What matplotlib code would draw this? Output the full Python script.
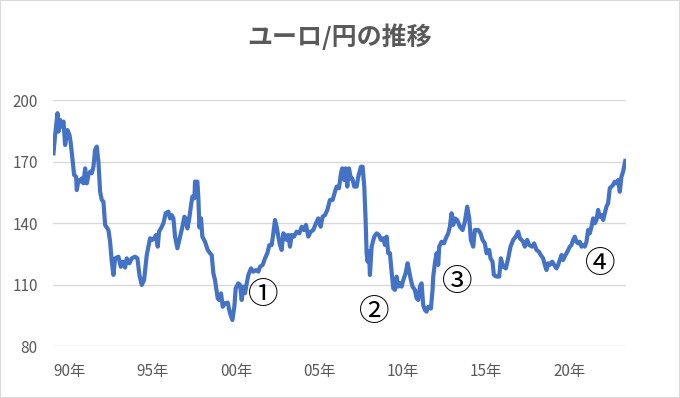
"""Chart: EUR/JPY history."""

import matplotlib
matplotlib.use('Agg')
from matplotlib import pyplot as plt
from matplotlib.patches import Rectangle

plt.rcParams['font.family'] = ['Noto Sans CJK JP', 'DejaVu Sans']

TITLE = 'ユーロ/円の推移'

# decimal year (chart coordinate) and rate in yen
years = [
    1989.03, 1989.13, 1989.27, 1989.33, 1989.43, 1989.53, 1989.63, 1989.73, 1989.87, 1989.99,
    1990.07, 1990.19, 1990.27, 1990.39, 1990.43, 1990.53, 1990.63, 1990.73, 1990.83, 1990.93,
    1991.03, 1991.13, 1991.23, 1991.33, 1991.43, 1991.53, 1991.63, 1991.73, 1991.83, 1991.93,
    1992.03, 1992.13, 1992.33, 1992.43, 1992.53, 1992.63, 1992.73, 1992.93, 1993.07, 1993.19,
    1993.33, 1993.43, 1993.59, 1993.73, 1993.93, 1994.07, 1994.19, 1994.33, 1994.47, 1994.63,
    1994.73, 1994.83, 1994.97, 1995.09, 1995.19, 1995.29, 1995.37, 1995.53, 1995.63, 1995.77,
    1995.93, 1996.03, 1996.13, 1996.23, 1996.33, 1996.47, 1996.63, 1996.77, 1996.89, 1996.97,
    1997.07, 1997.17, 1997.29, 1997.37, 1997.49, 1997.53, 1997.67, 1997.73, 1997.79, 1997.89,
    1997.97, 1998.13, 1998.29, 1998.43, 1998.53, 1998.63, 1998.73, 1998.89, 1998.97, 1999.09,
    1999.19, 1999.33, 1999.49, 1999.63, 1999.77, 1999.89, 1999.97, 2000.13, 2000.23, 2000.33,
    2000.43, 2000.53, 2000.63, 2000.73, 2000.89, 2001.03, 2001.19, 2001.33, 2001.43, 2001.59,
    2001.73, 2001.87, 2001.99, 2002.13, 2002.23, 2002.33, 2002.43, 2002.53, 2002.63, 2002.73,
    2002.83, 2002.93, 2003.03, 2003.13, 2003.23, 2003.33, 2003.47, 2003.63, 2003.79, 2003.93,
    2004.07, 2004.19, 2004.33, 2004.47, 2004.63, 2004.79, 2004.93, 2005.07, 2005.19, 2005.33,
    2005.47, 2005.63, 2005.79, 2005.93, 2006.03, 2006.17, 2006.29, 2006.37, 2006.49, 2006.57,
    2006.67, 2006.77, 2006.89, 2006.97, 2007.09, 2007.23, 2007.33, 2007.49, 2007.59, 2007.69,
    2007.77, 2007.83, 2007.89, 2007.97, 2008.03, 2008.13, 2008.29, 2008.43, 2008.57, 2008.69,
    2008.83, 2008.93, 2009.03, 2009.13, 2009.23, 2009.33, 2009.43, 2009.53, 2009.63, 2009.73,
    2009.83, 2009.93, 2010.03, 2010.17, 2010.29, 2010.37, 2010.49, 2010.59, 2010.73, 2010.83,
    2010.93, 2011.03, 2011.13, 2011.23, 2011.33, 2011.43, 2011.53, 2011.69, 2011.79, 2011.83,
    2011.93, 2012.03, 2012.13, 2012.19, 2012.33, 2012.47, 2012.59, 2012.73, 2012.83, 2012.93,
    2013.03, 2013.13, 2013.27, 2013.43, 2013.59, 2013.73, 2013.87, 2013.99, 2014.09, 2014.23,
    2014.33, 2014.53, 2014.67, 2014.79, 2014.93, 2015.03, 2015.19, 2015.27, 2015.39, 2015.47,
    2015.63, 2015.79, 2015.89, 2016.03, 2016.19, 2016.33, 2016.47, 2016.63, 2016.79, 2016.93,
    2017.03, 2017.13, 2017.23, 2017.33, 2017.47, 2017.59, 2017.77, 2017.89, 2018.03, 2018.17,
    2018.29, 2018.43, 2018.53, 2018.63, 2018.73, 2018.83, 2018.97, 2019.09, 2019.23, 2019.33,
    2019.43, 2019.53, 2019.63, 2019.77, 2019.89, 2020.03, 2020.13, 2020.23, 2020.33, 2020.43,
    2020.53, 2020.63, 2020.73, 2020.83, 2020.93, 2021.03, 2021.13, 2021.23, 2021.33, 2021.43,
    2021.53, 2021.63, 2021.73, 2021.83, 2021.93, 2022.03, 2022.13, 2022.23, 2022.33, 2022.43,
    2022.53, 2022.63, 2022.73, 2022.83, 2022.93, 2023.03, 2023.13, 2023.23, 2023.36,
]
rates = [
    174.2, 183.2, 193.8, 184.8, 190.5, 187.2, 189.7, 178.3, 185.6, 183.2,
    179.1, 170.1, 163.7, 162.8, 156.3, 161.2, 160.4, 162.0, 159.6, 166.9,
    159.6, 163.7, 165.3, 164.5, 167.7, 175.9, 177.5, 170.1, 155.5, 151.5,
    150.6, 139.3, 136.8, 131.1, 121.4, 114.9, 123.0, 123.8, 118.9, 121.4,
    118.5, 123.0, 120.6, 123.0, 123.8, 123.0, 114.9, 110.0, 112.4, 124.6,
    128.7, 132.8, 132.0, 132.8, 134.4, 128.7, 136.0, 138.4, 140.1, 145.0,
    145.8, 142.5, 144.1, 142.5, 133.6, 127.9, 133.6, 138.4, 143.3, 142.5,
    137.6, 141.7, 149.0, 153.1, 152.3, 160.4, 160.4, 152.3, 138.1, 142.5,
    133.6, 131.1, 127.1, 125.5, 124.6, 115.7, 112.4, 103.5, 102.7, 105.9,
    99.4, 101.1, 101.4, 96.2, 92.9, 99.4, 108.4, 110.8, 110.0, 102.7,
    109.2, 106.0, 110.8, 114.9, 118.1, 116.5, 117.3, 116.5, 118.9, 119.8,
    123.0, 125.5, 129.5, 129.5, 135.2, 141.7, 138.4, 133.6, 129.5, 127.1,
    135.2, 134.4, 132.0, 134.4, 128.7, 134.4, 133.6, 136.0, 135.2, 138.4,
    136.8, 139.3, 133.6, 136.0, 136.8, 140.1, 142.5, 138.4, 143.3, 144.1,
    146.6, 151.5, 151.5, 155.5, 158.0, 157.2, 164.5, 166.9, 161.2, 166.9,
    158.0, 166.9, 162.0, 162.0, 158.0, 158.0, 162.8, 167.7, 167.7, 158.0,
    141.7, 125.5, 121.4, 126.3, 114.9, 128.7, 133.6, 135.2, 134.4, 132.0,
    132.8, 129.5, 133.6, 125.5, 125.5, 116.5, 108.4, 107.6, 114.1, 109.2,
    110.8, 109.2, 112.4, 115.7, 120.6, 117.3, 112.4, 109.2, 107.6, 103.5,
    102.7, 109.2, 110.8, 100.2, 97.8, 97.0, 99.4, 98.5, 107.6, 114.1,
    120.6, 125.5, 119.8, 128.7, 131.1, 130.3, 132.8, 135.2, 138.4, 145.0,
    139.3, 142.5, 141.7, 138.4, 136.8, 140.9, 148.2, 142.5, 132.0, 128.7,
    136.8, 136.8, 135.2, 132.0, 130.3, 125.5, 127.1, 123.0, 121.4, 114.9,
    114.1, 114.1, 123.0, 118.9, 118.1, 123.0, 128.7, 132.0, 133.6, 136.0,
    132.8, 132.0, 131.1, 128.7, 132.0, 129.5, 128.7, 130.3, 127.1, 126.3,
    124.6, 123.0, 119.8, 117.3, 120.6, 119.8, 121.4, 119.8, 118.1, 119.8,
    122.2, 124.6, 122.2, 124.6, 126.3, 128.7, 129.5, 132.0, 133.6, 131.1,
    130.3, 131.1, 128.7, 129.5, 128.7, 131.1, 136.8, 135.2, 138.4, 142.5,
    140.1, 141.7, 146.6, 143.3, 144.1, 141.7, 145.0, 148.2, 149.9, 157.2,
    158.0, 158.8, 160.4, 159.6, 161.2, 155.5, 162.8, 165.3, 170.5,
]

tick_years = [1990, 1995, 2000, 2005, 2010, 2015, 2020]
tick_labels = ['90年', '95年', '00年', '05年', '10年', '15年', '20年']
y_ticks = [80, 110, 140, 170, 200]

# circled markers: label, year, rate
notes = ['①', '②', '③', '④']
note_years = [2001.6, 2008.3, 2013.25, 2021.83]
note_rates = [105.1, 96.8, 111.0, 120.2]

LINE_COLOR = '#4472C4'
TEXT_COLOR = '#595959'
GRID_COLOR = '#d9d9d9'

fig = plt.figure(figsize=(6.8, 3.98), dpi=100)
fig.patches.append(Rectangle((0, 0), 1, 1, transform=fig.transFigure,
                             fill=False, edgecolor=GRID_COLOR, linewidth=1.5))
ax = fig.add_axes([0.0779, 0.1294, 0.8426, 0.6181])

ax.plot(years, rates, color=LINE_COLOR, linewidth=3.0, solid_joinstyle='round')

# circled numbers
for label, x, y in zip(notes, note_years, note_rates):
    ax.text(x, y, label, fontsize=22, color='black', ha='center', va='center')

ax.set_xlim(1989.0, 2023.4)
ax.set_ylim(80, 200)
ax.set_yticks(y_ticks)
ax.set_xticks(tick_years)
ax.set_xticklabels(tick_labels)
ax.grid(axis='y', color=GRID_COLOR, linewidth=1)
ax.set_axisbelow(True)
for spine in ax.spines.values():
    spine.set_visible(False)
ax.tick_params(axis='both', length=0, labelsize=11, labelcolor=TEXT_COLOR)
ax.tick_params(axis='y', pad=11)
ax.tick_params(axis='x', pad=12)

fig.text(0.5, 1 - 37 / 398, TITLE, ha='center', va='center', fontsize=18,
         fontweight='bold', color=TEXT_COLOR)

fig.savefig('out.png', dpi=100)
